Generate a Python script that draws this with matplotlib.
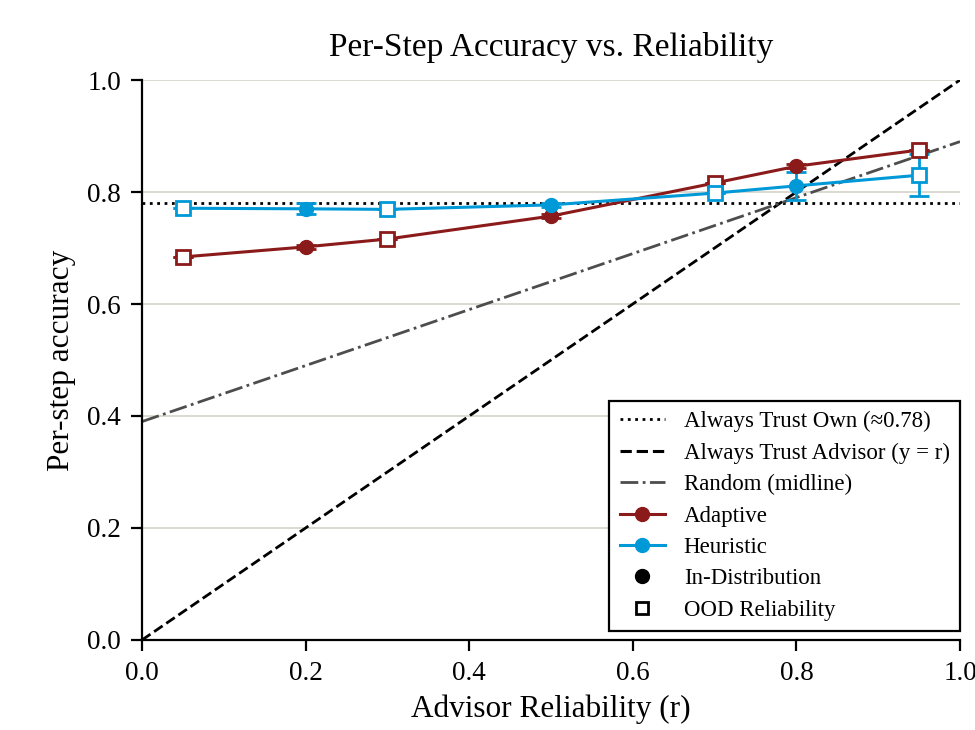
import numpy as np
import matplotlib
matplotlib.use("Agg")
import matplotlib.pyplot as plt
from matplotlib.lines import Line2D

# reliability levels, in-distribution vs OOD
r_all = [0.05, 0.2, 0.3, 0.5, 0.7, 0.8, 0.95]
ood = [True, False, True, False, True, False, True]

adaptive = [0.684, 0.702, 0.716, 0.757, 0.816, 0.846, 0.875]
adaptive_err = [0.0, 0.004, 0.0, 0.003, 0.0, 0.004, 0.0]
heuristic = [0.771, 0.770, 0.769, 0.777, 0.798, 0.811, 0.830]
heuristic_err = [0.0, 0.01, 0.0, 0.004, 0.0, 0.025, 0.037]

own_acc = 0.78

RED = "#8b1a1a"
BLUE = "#0099d8"

plt.rcParams["font.family"] = ["Liberation Serif", "DejaVu Serif"]

fig = plt.figure(figsize=(9.75, 7.3), dpi=100)
ax = fig.add_axes([0.1456, 0.1233, 0.8390, 0.7671])

xs = np.array([0.0, 1.0])
ax.plot(xs, [own_acc, own_acc], ls=":", color="black", lw=2, zorder=2)
ax.plot(xs, xs, ls="--", color="black", lw=2, zorder=2)
ax.plot(xs, (own_acc + xs) / 2, ls="-.", color="#4d4d4d", lw=2, zorder=2)


def draw_series(vals, errs, color):
    ax.plot(r_all, vals, color=color, lw=2.2, zorder=3)
    ax.errorbar(r_all, vals, yerr=errs, fmt="none", ecolor=color,
                elinewidth=2, capsize=7, capthick=2, zorder=3)
    for x, y, o in zip(r_all, vals, ood):
        if o:
            ax.plot(x, y, marker="s", ms=9.5, mfc="white", mec=color,
                    mew=2, zorder=4)
        else:
            ax.plot(x, y, marker="o", ms=10, color=color, zorder=4)


draw_series(adaptive, adaptive_err, RED)
draw_series(heuristic, heuristic_err, BLUE)

ticks = np.arange(0, 1.01, 0.2)
ax.set_xlim(0, 1)
ax.set_ylim(0, 1)
ax.set_xticks(ticks)
ax.set_yticks(ticks)
ax.set_xticklabels([f"{v:.1f}" for v in ticks])
ax.set_yticklabels([f"{v:.1f}" for v in ticks])
ax.yaxis.grid(True, color="#d9d7cc", lw=1.3)
ax.set_axisbelow(True)
for s in ["top", "right"]:
    ax.spines[s].set_visible(False)
for s in ["left", "bottom"]:
    ax.spines[s].set_linewidth(1.6)
ax.tick_params(labelsize=19.5, width=1.6, length=8, pad=7, direction="out")

ax.set_xlabel("Advisor Reliability (r)", fontsize=22.5, labelpad=6)
ax.set_ylabel("Per-step accuracy", fontsize=22.5, labelpad=8)
ax.set_title("Per-Step Accuracy vs. Reliability", fontsize=24, pad=17)

handles = [
    Line2D([], [], ls=":", color="black", lw=2),
    Line2D([], [], ls="--", color="black", lw=2.2),
    Line2D([], [], ls="-.", color="#4d4d4d", lw=2),
    Line2D([], [], color=RED, lw=2.2, marker="o", ms=10),
    Line2D([], [], color=BLUE, lw=2.2, marker="o", ms=10),
    Line2D([], [], ls="none", marker="o", color="black", ms=10),
    Line2D([], [], ls="none", marker="s", mfc="white", mec="black", mew=2, ms=9),
]
labels = ["Always Trust Own (\u22480.78)", "Always Trust Advisor (y = r)",
          "Random (midline)", "Adaptive", "Heuristic", "In-Distribution",
          "OOD Reliability"]
leg = ax.legend(handles, labels, loc="lower right", fontsize=16.5,
                frameon=True, fancybox=False, edgecolor="black",
                framealpha=1, borderpad=0.45, labelspacing=0.45,
                handlelength=2.0, handletextpad=0.8, borderaxespad=0,
                bbox_to_anchor=(1.0, 0.016))
leg.get_frame().set_linewidth(1.6)

fig.savefig("out.png", dpi=100)
